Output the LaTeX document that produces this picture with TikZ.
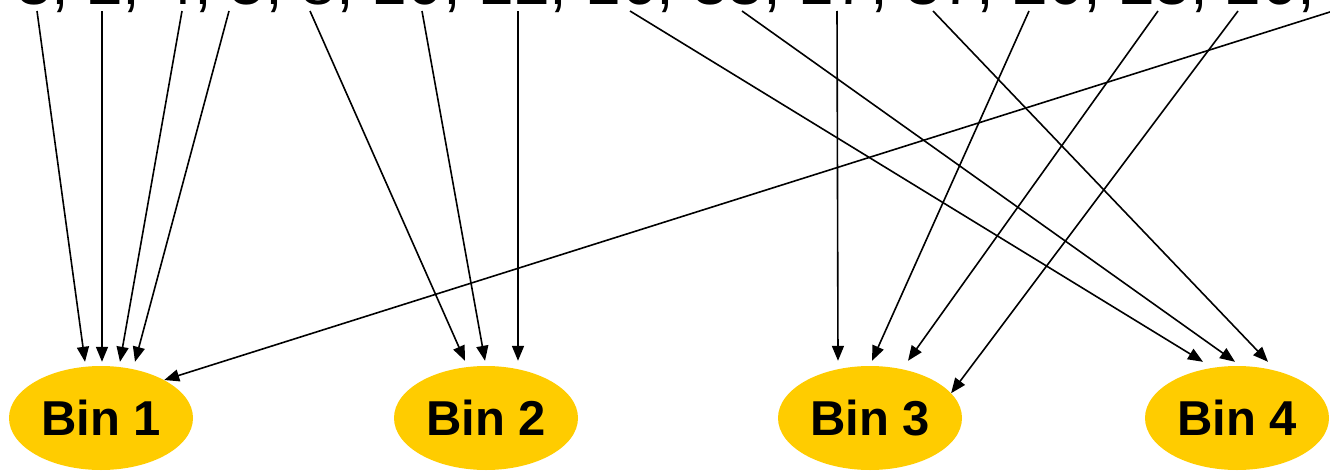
\documentclass[tikz,border=0pt]{standalone}
\usepackage{fontspec}
\setmainfont{Liberation Sans}
\usetikzlibrary{arrows.meta,shapes.geometric}
\definecolor{binyellow}{RGB}{255,204,0}
\begin{document}
\begin{tikzpicture}[x=1pt,y=-1pt,
  bin/.style={ellipse, fill=binyellow, draw=none, minimum width=184pt, minimum height=104pt, inner sep=0pt, font=\fontsize{49}{56}\selectfont\bfseries},
  link/.style={line width=1.6pt, -{Triangle[length=15pt,width=12pt]}}]
\useasboundingbox (0,0) rectangle (1330,471);
\clip (0,0) rectangle (1330,471);
\node[anchor=base west, inner sep=0pt, font=\fontsize{64}{70}\selectfont] (numbers) at (16,5) {3, 2, 4, 5, 8, 10, 12, 16, 33, 17, 37, 20, 23, 26, 1,};
\node[bin] (bin1) at (101,418) {Bin 1};
\node[bin] (bin2) at (486,418) {Bin 2};
\node[bin] (bin3) at (870,418) {Bin 3};
\node[bin] (bin4) at (1237,418) {Bin 4};
\coordinate (s1) at (37,11);
\coordinate (s2) at (102,11);
\coordinate (s3) at (182,11);
\coordinate (s4) at (229,11);
\coordinate (s5) at (310,11);
\coordinate (s6) at (422,11);
\coordinate (s7) at (518,11);
\coordinate (s8) at (630,11);
\coordinate (s9) at (742,11);
\coordinate (s10) at (837,11);
\coordinate (s11) at (933,11);
\coordinate (s12) at (1029,11);
\coordinate (s13) at (1158,11);
\coordinate (s14) at (1238,11);
\coordinate (s15) at (1360,2.5);
\draw[link] (s1) -- ([xshift=-16pt,yshift=4pt]bin1.north);
\draw[link] (s2) -- ([xshift=1pt,yshift=4pt]bin1.north);
\draw[link] (s3) -- ([xshift=19pt,yshift=4pt]bin1.north);
\draw[link] (s4) -- ([xshift=34pt,yshift=4pt]bin1.north);
\draw[link] (s5) -- ([xshift=-21pt,yshift=5pt]bin2.north);
\draw[link] (s6) -- ([xshift=-1pt,yshift=5pt]bin2.north);
\draw[link] (s7) -- ([xshift=32pt,yshift=5pt]bin2.north);
\draw[link] (s8) -- ([xshift=-34pt,yshift=4pt]bin4.north);
\draw[link] (s9) -- ([xshift=-2pt,yshift=4pt]bin4.north);
\draw[link] (s10) -- ([xshift=-32pt,yshift=5pt]bin3.north);
\draw[link] (s11) -- ([xshift=31pt,yshift=4pt]bin4.north);
\draw[link] (s12) -- ([xshift=2pt,yshift=5pt]bin3.north);
\draw[link] (s13) -- ([xshift=38pt,yshift=5pt]bin3.north);
\draw[link] (s14) -- (bin3.17);
\draw[link] (s15) -- (bin1.31);
\end{tikzpicture}
\end{document}
